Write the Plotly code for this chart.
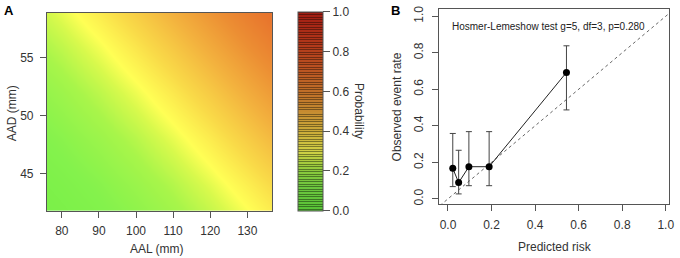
import plotly.graph_objects as go

W, H = 680, 258

# ---------------- Panel A data: predicted probability surface ----------------
aal_grid = [70, 80, 90, 100, 110, 120, 130, 140]
aad_grid = [40, 44, 48, 52, 56, 60]
prob_grid = [
    [0.056, 0.074, 0.097, 0.127, 0.165, 0.210, 0.265, 0.328],
    [0.076, 0.100, 0.130, 0.169, 0.215, 0.271, 0.334, 0.404],
    [0.103, 0.134, 0.173, 0.220, 0.277, 0.341, 0.412, 0.486],
    [0.137, 0.177, 0.226, 0.283, 0.348, 0.419, 0.494, 0.569],
    [0.182, 0.231, 0.289, 0.355, 0.426, 0.501, 0.576, 0.648],
    [0.236, 0.295, 0.362, 0.434, 0.509, 0.583, 0.654, 0.719],
]
a_xticks = [80, 90, 100, 110, 120, 130]
a_yticks = [45, 50, 55]
cb_ticks = [0.0, 0.2, 0.4, 0.6, 0.8, 1.0]

# ---------------- Panel B data: calibration ----------------
pred_risk = [0.022, 0.049, 0.096, 0.189, 0.544]
obs_rate = [0.167, 0.089, 0.176, 0.176, 0.692]
ci_low = [0.067, 0.027, 0.072, 0.072, 0.487]
ci_high = [0.358, 0.266, 0.368, 0.368, 0.838]
b_ticks = [0.0, 0.2, 0.4, 0.6, 0.8, 1.0]
hl_text = "Hosmer-Lemeshow test g=5, df=3, p=0.280"

# ---------------- styling ----------------
heat_scale = [
    [0.00, "#6AEC42"],
    [0.12, "#84F24C"],
    [0.20, "#A8F54A"],
    [0.26, "#D8F94C"],
    [0.30, "#FFFF55"],
    [0.38, "#F9DA48"],
    [0.48, "#F3B23E"],
    [0.58, "#EC8E33"],
    [0.70, "#E66A2A"],
    [0.85, "#D8421F"],
    [1.00, "#C42318"],
]


def hex2rgb(h):
    h = h.lstrip("#")
    return [int(h[i:i + 2], 16) for i in (0, 2, 4)]


def interp_color(scale, v):
    for (p0, c0), (p1, c1) in zip(scale[:-1], scale[1:]):
        if p0 <= v <= p1:
            t = 0 if p1 == p0 else (v - p0) / (p1 - p0)
            a, b = hex2rgb(c0), hex2rgb(c1)
            return [a[i] + (b[i] - a[i]) * t for i in range(3)]
    return hex2rgb(scale[-1][1])


def rgb(c, f=1.0):
    return "rgb(%d,%d,%d)" % tuple(max(0, min(255, round(x * f))) for x in c)


# striped colour bar (like R's image legend with borders)
N = 80
stripe_scale = []
for i in range(N):
    lo, hi = i / N, (i + 1) / N
    c = interp_color(heat_scale, (lo + hi) / 2)
    mid = lo + 0.6 / N
    stripe_scale += [[lo, rgb(c, 0.82)], [mid, rgb(c, 0.82)], [mid, rgb(c, 0.5)], [hi, rgb(c, 0.5)]]
stripe_scale[-1][0] = 1.0

FONT = "Liberation Sans, Arial, sans-serif"
TXT = "#333333"
AX = "#555555"
FS = 11


def px_x(p):
    return p / W


def px_y(p):
    return 1 - p / H


fig = go.Figure()

fig.add_trace(go.Heatmap(
    x=aal_grid, y=aad_grid, z=prob_grid, zsmooth="best",
    colorscale=heat_scale, zmin=0, zmax=1, showscale=False,
    xaxis="x", yaxis="y", hoverinfo="skip",
))

fig.add_trace(go.Scatter(
    x=[100], y=[50], mode="markers", xaxis="x", yaxis="y", showlegend=False,
    hoverinfo="skip",
    marker=dict(size=1, opacity=0, color=[0.5], cmin=0, cmax=1,
                colorscale=stripe_scale, showscale=True,
                colorbar=dict(
                    thickness=25, thicknessmode="pixels",
                    len=202 / H, lenmode="fraction",
                    x=px_x(300), xanchor="left", y=px_y(110), yanchor="middle",
                    xpad=0, ypad=0, outlinewidth=1, outlinecolor=AX,
                    ticks="outside", ticklen=7, tickwidth=1, tickcolor=AX,
                    tickvals=cb_ticks, ticktext=["%.1f" % t for t in cb_ticks],
                    tickfont=dict(family=FONT, size=FS + 1, color=TXT),
                )),
))

# Panel B traces
fig.add_trace(go.Scatter(
    x=[-0.1, 1.1], y=[-0.1, 1.1], mode="lines", xaxis="x2", yaxis="y2",
    line=dict(color="#666666", width=1, dash="3px,3px"), showlegend=False, hoverinfo="skip",
))
fig.add_trace(go.Scatter(
    x=pred_risk, y=obs_rate, mode="lines+markers", xaxis="x2", yaxis="y2",
    line=dict(color="#222222", width=1),
    marker=dict(color="black", size=7),
    error_y=dict(type="data", symmetric=False,
                 array=[h - o for h, o in zip(ci_high, obs_rate)],
                 arrayminus=[o - l for o, l in zip(obs_rate, ci_low)],
                 color="#444444", thickness=1, width=3),
    showlegend=False, hoverinfo="skip",
))

axis_common = dict(showgrid=False, zeroline=False, showline=True, linecolor=AX, linewidth=1,
                   mirror=True, ticks="outside", ticklen=6, tickwidth=1, tickcolor=AX,
                   tickfont=dict(family=FONT, size=FS + 1, color=TXT))

fig.update_layout(
    width=W, height=H, margin=dict(l=0, r=0, t=0, b=0),
    paper_bgcolor="white", plot_bgcolor="white",
    font=dict(family=FONT, size=FS, color=TXT),
    xaxis=dict(domain=[px_x(47.3), px_x(274.3)], range=[76.0, 136.7],
               tickvals=a_xticks, ticklabelstandoff=3, anchor="y", **axis_common),
    yaxis=dict(domain=[px_y(211), px_y(10)], range=[41.8, 58.9],
               tickvals=a_yticks, ticklabelstandoff=4, anchor="x", **axis_common),
    xaxis2=dict(domain=[px_x(442.3), px_x(674)], range=[-0.041, 1.015],
                tickvals=b_ticks, ticktext=["%.1f" % t for t in b_ticks],
                ticklabelstandoff=3, anchor="y2", **axis_common),
    yaxis2=dict(domain=[px_y(204.5), px_y(6)], range=[-0.03, 1.04],
                tickvals=b_ticks, ticktext=["%.1f" % t for t in b_ticks],
                tickangle=-90, ticklabelstandoff=4, anchor="x2", **axis_common),
    annotations=[
        dict(text="<b>A</b>", x=px_x(2), y=px_y(8), xref="paper", yref="paper",
             xanchor="left", yanchor="middle", showarrow=False,
             font=dict(family=FONT, size=13, color="black")),
        dict(text="<b>B</b>", x=px_x(392), y=px_y(8), xref="paper", yref="paper",
             xanchor="left", yanchor="middle", showarrow=False,
             font=dict(family=FONT, size=13, color="black")),
        dict(text="AAL (mm)", x=px_x(158), y=px_y(250), xref="paper", yref="paper",
             xanchor="center", yanchor="middle", showarrow=False,
             font=dict(family=FONT, size=FS + 1, color=TXT)),
        dict(text="AAD (mm)", x=px_x(12), y=px_y(112), xref="paper", yref="paper",
             xanchor="center", yanchor="middle", showarrow=False, textangle=-90,
             font=dict(family=FONT, size=FS + 1, color=TXT)),
        dict(text="Probability", x=px_x(361), y=px_y(110), xref="paper", yref="paper",
             xanchor="center", yanchor="middle", showarrow=False, textangle=90,
             font=dict(family=FONT, size=FS + 1, color=TXT)),
        dict(text="Observed event rate", x=px_x(400), y=px_y(106), xref="paper", yref="paper",
             xanchor="center", yanchor="middle", showarrow=False, textangle=-90,
             font=dict(family=FONT, size=FS + 1, color=TXT)),
        dict(text="Predicted risk", x=px_x(559), y=px_y(248), xref="paper", yref="paper",
             xanchor="center", yanchor="middle", showarrow=False,
             font=dict(family=FONT, size=FS + 1, color=TXT)),
        dict(text=hl_text, x=px_x(453), y=px_y(24), xref="paper", yref="paper",
             xanchor="left", yanchor="middle", showarrow=False,
             font=dict(family=FONT, size=10, color="#222222")),
    ],
)

fig.write_html("out.html")
